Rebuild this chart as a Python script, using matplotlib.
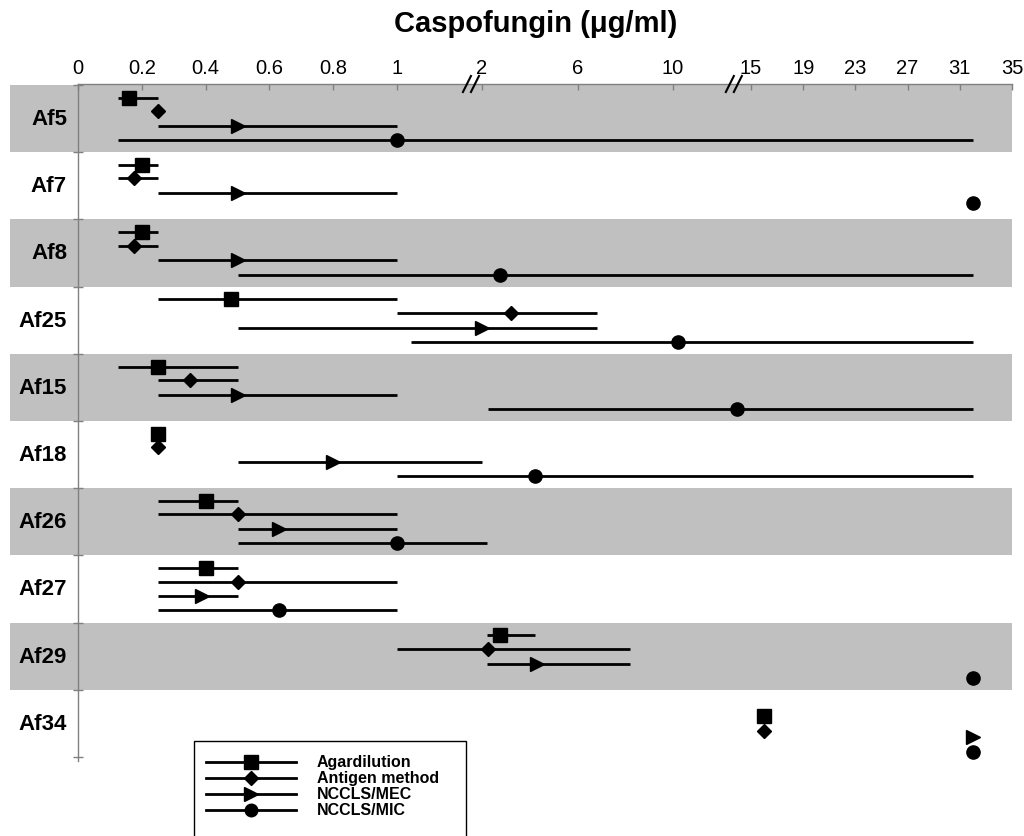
import numpy as np
import matplotlib
matplotlib.use("Agg")
import matplotlib.pyplot as plt
from matplotlib.lines import Line2D
from matplotlib.patches import Rectangle
from matplotlib.transforms import ScaledTranslation

plt.rcParams['font.family'] = ['Liberation Sans', 'DejaVu Sans']

nan = np.nan
isolates = ['Af5', 'Af7', 'Af8', 'Af25', 'Af15', 'Af18', 'Af26', 'Af27', 'Af29', 'Af34']
methods = ['Agardilution', 'Antigen method', 'NCCLS/MEC', 'NCCLS/MIC']

agar_val = [0.16, 0.2, 0.2, 0.48, 0.25, 0.25, 0.4, 0.4, 2.75, 16]
agar_lo = [0.125, 0.125, 0.125, 0.25, 0.125, nan, 0.25, 0.25, 2.2, nan]
agar_hi = [0.25, 0.25, 0.25, 1, 0.5, nan, 0.5, 0.5, 4.2, nan]

antigen_val = [0.25, 0.175, 0.175, 3.2, 0.35, 0.25, 0.5, 0.5, 2.25, 16]
antigen_lo = [nan, 0.125, 0.125, 1, 0.25, nan, 0.25, 0.25, 1, nan]
antigen_hi = [nan, 0.25, 0.25, 6.8, 0.5, nan, 1, 1, 8.2, nan]

mec_val = [0.5, 0.5, 0.5, 2.0, 0.5, 0.8, 0.63, 0.39, 4.3, 32]
mec_lo = [0.25, 0.25, 0.25, 0.5, 0.25, 0.5, 0.5, 0.25, 2.2, nan]
mec_hi = [1, 1, 1, 6.8, 1, 2, 1, 0.5, 8.2, nan]

mic_val = [1, 32, 2.75, 10.3, 14.1, 4.2, 1, 0.63, 32, 32]
mic_lo = [0.125, nan, 0.5, 1.17, 2.24, 1, 0.5, 0.25, nan, nan]
mic_hi = [32, nan, 32, 32, 32, 32, 2.2, 1, nan, nan]

tick_values = [0, 0.2, 0.4, 0.6, 0.8, 1, 2, 6, 10, 15, 19, 23, 27, 31, 35]
tick_labels = ['0', '0.2', '0.4', '0.6', '0.8', '1', '2', '6', '10', '15', '19', '23', '27', '31', '35']
break_values = [1.87, 13.9]

# piecewise axis (broken scale)
scale_vals = [0, 1, 2, 10, 15, 35]
scale_pos = [0, 319, 404, 595, 673, 934]


def fwd(v):
    return np.interp(v, scale_vals, scale_pos)


def inv(p):
    return np.interp(p, scale_pos, scale_vals)


W, H = 1024, 837
fig = plt.figure(figsize=(W / 100, H / 100), dpi=100)
ax = fig.add_axes([78 / W, 1 - 762 / H, (1012 - 78) / W, (762 - 85) / H])
ax.set_xscale('function', functions=(fwd, inv))
ax.set_xlim(0, 35)
ax.set_ylim(10.06, -0.015)

# bands
for i in range(len(isolates)):
    if i % 2 == 0:
        ax.axhspan(i, i + 1, xmin=-0.0728, xmax=1, color='#c0c0c0', lw=0, zorder=0, clip_on=False)
    ax.text(-0.0118, i + 0.5, isolates[i], transform=ax.get_yaxis_transform(),
            ha='right', va='center', fontsize=16, fontweight='bold')

series = [
    (agar_val, agar_lo, agar_hi, 's', 10),
    (antigen_val, antigen_lo, antigen_hi, 'D', 7.2),
    (mec_val, mec_lo, mec_hi, '>', 10.5),
    (mic_val, mic_lo, mic_hi, 'o', 9.5),
]
default_offsets = [0.19, 0.39, 0.61, 0.82]
row_offsets = {1: [0.19, 0.39, 0.61, 0.76], 9: [0.39, 0.61, 0.70, 0.92]}

for k, (vals, lo, hi, mk, ms) in enumerate(series):
    for i in range(len(isolates)):
        y = i + row_offsets.get(i, default_offsets)[k]
        if not np.isnan(lo[i]):
            ax.plot([lo[i], hi[i]], [y, y], color='black', lw=2, solid_capstyle='butt', zorder=3, clip_on=False)
        ax.plot([vals[i]], [y], marker=mk, ms=ms, color='black', mec='black', lw=0, zorder=4, clip_on=False)

# axes styling
ax.xaxis.tick_top()
ax.set_xticks(tick_values)
ax.set_xticklabels(tick_labels)
ax.xaxis.set_minor_locator(matplotlib.ticker.NullLocator())
ax.tick_params(axis='x', direction='in', length=4, width=1, color='#808080', labelsize=14.5, pad=5)
ax.set_yticks(range(0, 11))
ax.set_yticklabels([])
ax.tick_params(axis='y', direction='inout', length=7, width=1, color='#808080')
for s in ['right', 'bottom']:
    ax.spines[s].set_visible(False)
for s in ['top', 'left']:
    ax.spines[s].set_color('#808080')
    ax.spines[s].set_linewidth(1)

# break marks (two slanted strokes crossing the top axis)
for bv in break_values:
    for dx in (-4, 4):
        tr1 = ax.get_xaxis_transform() + ScaledTranslation((dx - 4) / 100, -8 / 100, fig.dpi_scale_trans)
        tr2 = ax.get_xaxis_transform() + ScaledTranslation((dx + 4) / 100, 8 / 100, fig.dpi_scale_trans)
        p1 = tr1.transform((bv, 1))
        p2 = tr2.transform((bv, 1))
        fig.add_artist(Line2D([p1[0] / W, p2[0] / W], [p1[1] / H, p2[1] / H],
                              transform=fig.transFigure, color='black', lw=1.5))

fig.text(536 / W, 1 - 24 / H, 'Caspofungin (μg/ml)', ha='center', va='center',
         fontsize=21, fontweight='bold')

# legend (box extends below the figure edge)
fig.add_artist(Rectangle((194 / W, -0.05), (466 - 194) / W, (1 - 742 / H) + 0.05,
                         transform=fig.transFigure, fill=False, ec='black', lw=1, clip_on=False))
legend_rows = [763, 779, 795, 811]
for (vals, lo, hi, mk, ms), name, yy in zip(series, methods, legend_rows):
    yf = 1 - yy / H
    fig.add_artist(Line2D([206 / W, 296 / W], [yf, yf], transform=fig.transFigure, color='black', lw=2))
    fig.add_artist(Line2D([251 / W], [yf], transform=fig.transFigure, marker=mk, ms=ms * 0.95,
                          color='black', lw=0))
    fig.text(317 / W, yf, name, ha='left', va='center', fontsize=11.5, fontweight='bold')

fig.savefig('out.png', dpi=100)
